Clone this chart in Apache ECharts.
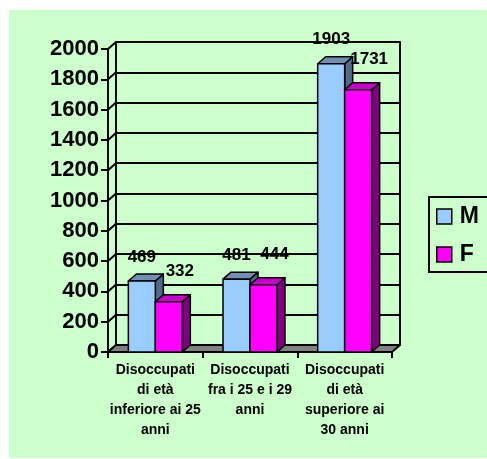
<!DOCTYPE html>
<html>
<head>
<meta charset="utf-8">
<script src="https://cdn.jsdelivr.net/npm/echarts@6/dist/echarts.min.js"></script>
<style>
html,body{margin:0;padding:0;background:#fff;}
#c{width:487px;height:459px;}
</style>
</head>
<body>
<div id="c"></div>
<script>
const categories = [
  'Disoccupati\ndi età\ninferiore ai 25\nanni',
  'Disoccupati\nfra i 25 e i 29\nanni',
  'Disoccupati\ndi età\nsuperiore ai\n30 anni'
];
const seriesNames = ['M', 'F'];
const valuesM = [469, 481, 1903];
const valuesF = [332, 444, 1731];
const yTicks = [0, 200, 400, 600, 800, 1000, 1200, 1400, 1600, 1800, 2000];

const FONT = '"Liberation Sans", Arial, Helvetica, sans-serif';
const DX = 8, DY = -7;

const faceColors = [
  { front: '#99ccff', top: '#6f8fb5', side: '#506a8a' },
  { front: '#ff00ff', top: '#cc00cc', side: '#800080' }
];
const labelOffsets = [[0, -24], [11, -30]];

function barRender(sIdx) {
  return function (params, api) {
    const ci = api.value(0), v = api.value(1);
    const base = api.coord([ci, 0]);
    const top = api.coord([ci, v]);
    const band = api.size([1, 0])[0];
    const bw = band * 0.285;
    const x0 = sIdx === 0 ? base[0] - bw : base[0];
    const x1 = x0 + bw;
    const yT = top[1], yB = base[1];
    const c = faceColors[sIdx];
    const stroke = { stroke: '#000', lineWidth: 1.5, lineJoin: 'round' };
    const off = labelOffsets[sIdx];
    return {
      type: 'group',
      children: [
        { type: 'polygon', shape: { points: [[x1, yT], [x1 + DX, yT + DY], [x1 + DX, yB + DY], [x1, yB]] },
          style: Object.assign({ fill: c.side }, stroke) },
        { type: 'polygon', shape: { points: [[x0, yT], [x1, yT], [x1 + DX, yT + DY], [x0 + DX, yT + DY]] },
          style: Object.assign({ fill: c.top }, stroke) },
        { type: 'rect', shape: { x: x0, y: yT, width: bw, height: yB - yT },
          style: Object.assign({ fill: c.front }, stroke) },
        { type: 'text', z2: 10,
          style: { text: String(v), x: (x0 + x1) / 2 + off[0], y: yT + off[1],
            align: 'center', verticalAlign: 'middle',
            font: 'bold 17px ' + FONT, fill: '#000' } }
      ]
    };
  };
}

const chart = echarts.init(document.getElementById('c'), null, { renderer: 'canvas' });

const option = {
  backgroundColor: '#ffffff',
  animation: false,
  graphic: [
    { type: 'rect', z: -10, silent: true, shape: { x: 9, y: 10, width: 478, height: 448 }, style: { fill: '#ccffcc' } },
    { type: 'rect', z: 5, silent: true, shape: { x: 429, y: 197, width: 80, height: 75 }, style: { fill: 'none', stroke: '#000', lineWidth: 2 } }
  ],
  legend: {
    orient: 'vertical',
    left: 436,
    top: 205,
    padding: 0,
    itemGap: 15,
    itemWidth: 15,
    itemHeight: 15,
    icon: 'rect',
    data: seriesNames,
    itemStyle: { borderColor: '#000', borderWidth: 1.5 },
    textStyle: { fontFamily: FONT, fontWeight: 'bold', fontSize: 23, color: '#000', lineHeight: 22, padding: [0, 0, 0, 3] }
  },
  grid: [
    { left: 108, top: 49, width: 284, height: 303 },
    { left: 116, top: 42, width: 284, height: 303 }
  ],
  xAxis: [
    {
      gridIndex: 0, type: 'category', data: categories,
      axisLine: { show: true, lineStyle: { color: '#000', width: 2 } },
      axisTick: { show: true, interval: 0, length: 6, lineStyle: { color: '#000', width: 2 } },
      axisLabel: { interval: 0, margin: 8, color: '#000', fontFamily: FONT, fontWeight: 'bold', fontSize: 14, lineHeight: 20, align: 'center' },
      splitLine: { show: false }
    },
    { gridIndex: 1, type: 'category', data: categories, show: false }
  ],
  yAxis: [
    {
      gridIndex: 0, type: 'value', min: 0, max: 2000, interval: 200,
      axisLine: { show: true, onZero: false, lineStyle: { color: '#000', width: 2 } },
      axisTick: { show: true, length: 7, lineStyle: { color: '#000', width: 2 } },
      axisLabel: { margin: 9, color: '#000', fontFamily: FONT, fontWeight: 'bold', fontSize: 22,
        formatter: function (v) { return String(v); } },
      splitLine: { show: false }
    },
    {
      gridIndex: 1, type: 'value', min: 0, max: 2000, interval: 200,
      axisLine: { show: true, onZero: false, lineStyle: { color: '#000', width: 2 } },
      axisTick: { show: false }, axisLabel: { show: false },
      splitLine: { show: true, lineStyle: { color: '#000', width: 2 } }
    },
    {
      gridIndex: 1, type: 'value', min: 0, max: 2000, interval: 200, position: 'right',
      axisLine: { show: true, onZero: false, lineStyle: { color: '#000', width: 2 } },
      axisTick: { show: false }, axisLabel: { show: false }, splitLine: { show: false }
    }
  ],
  series: [
    {
      type: 'custom', name: '_diag', xAxisIndex: 0, yAxisIndex: 0, z: 1, silent: true,
      data: yTicks.map(v => [0, v]),
      renderItem: function (params, api) {
        const cs = params.coordSys;
        const y = api.coord([0, api.value(1)])[1];
        return { type: 'line', shape: { x1: cs.x, y1: y, x2: cs.x + DX, y2: y + DY },
          style: { stroke: '#000', lineWidth: 2 } };
      }
    },
    {
      type: 'custom', name: '_floor', xAxisIndex: 0, yAxisIndex: 0, z: 2, silent: true,
      data: [[0, 0]],
      renderItem: function (params, api) {
        const cs = params.coordSys;
        const yb = api.coord([0, 0])[1];
        return { type: 'polygon',
          shape: { points: [[cs.x, yb], [cs.x + cs.width, yb], [cs.x + cs.width + DX, yb + DY], [cs.x + DX, yb + DY]] },
          style: { fill: '#808080', stroke: '#000', lineWidth: 2, lineJoin: 'round' } };
      }
    },
    {
      type: 'custom', name: seriesNames[0], xAxisIndex: 0, yAxisIndex: 0, z: 3,
      itemStyle: { color: faceColors[0].front },
      data: valuesM.map((v, i) => [i, v]),
      renderItem: barRender(0)
    },
    {
      type: 'custom', name: seriesNames[1], xAxisIndex: 0, yAxisIndex: 0, z: 4,
      itemStyle: { color: faceColors[1].front },
      data: valuesF.map((v, i) => [i, v]),
      renderItem: barRender(1)
    }
  ]
};
chart.setOption(option);
</script>
</body>
</html>
